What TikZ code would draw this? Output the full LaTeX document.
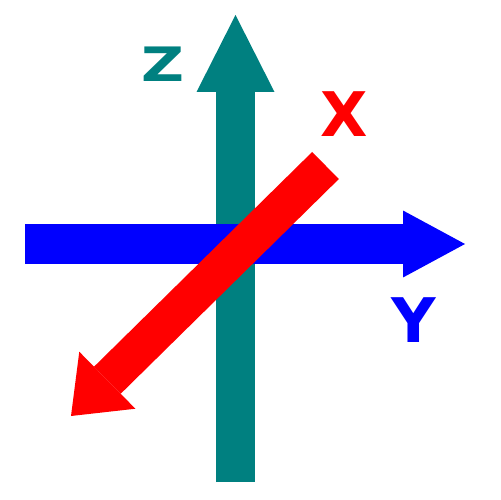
\documentclass[tikz,border=0pt]{standalone}
\usepackage{fontspec}
\newfontfamily\axisfont{DejaVu Sans}
\usepackage{tikz}
\usetikzlibrary{arrows.meta}
\definecolor{zaxis}{RGB}{0, 128, 128}
\definecolor{yaxis}{RGB}{0, 0, 255}
\definecolor{xaxis}{RGB}{255, 0, 0}
\tikzset{
	axislabel/.style={inner sep=0pt, font=\axisfont\bfseries},
}

\begin{document}
\begin{tikzpicture}[x=0.02cm, y=-0.02cm]
		\useasboundingbox (0,0) rectangle (500,500);
		\coordinate (zbot) at (235.5,482);
		\coordinate (ztop) at (235.5,15);
		\coordinate (ybot) at (25,244);
		\coordinate (ytop) at (465,244);
		\coordinate (xbot) at (325.5,165.5);
		\coordinate (xtop) at (71,416);
		
		\draw[zaxis, line width=0.78cm, -{Triangle[length=1.54cm, width=1.56cm, line width=0pt]}] (zbot) -- (ztop);
		\draw[yaxis, line width=0.80cm, -{Triangle[length=1.24cm, width=1.34cm, line width=0pt]}] (ybot) -- (ytop);
		\draw[xaxis, line width=0.76cm, -{Triangle[length=1.02cm, width=1.60cm, line width=0pt]}] (xbot) -- (xtop);
		
		\node[axislabel, zaxis, font=\axisfont\bfseries\fontsize{27pt}{27pt}\selectfont, xscale=1.25] (zlabel) at (163,64.5) {Z};
		\node[axislabel, xaxis, font=\axisfont\bfseries\fontsize{35pt}{35pt}\selectfont] (xlabel) at (344,114.5) {X};
		\node[axislabel, yaxis, font=\axisfont\bfseries\fontsize{35pt}{35pt}\selectfont] (ylabel) at (414,320) {Y};
	\end{tikzpicture}
\end{document}
